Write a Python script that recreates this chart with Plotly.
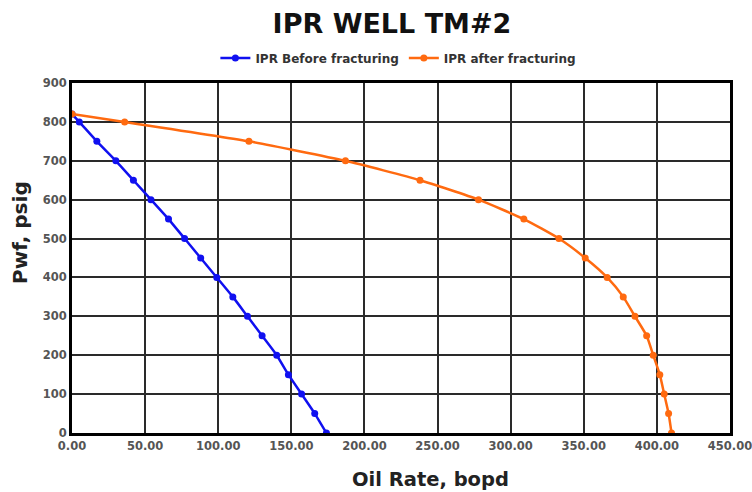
import plotly.graph_objects as go

# Data
pwf_before = [820, 800, 750, 700, 650, 600, 550, 500, 450, 400, 350, 300, 250, 200, 150, 100, 50, 0]
q_before = [0, 5, 17, 30, 42, 54, 66, 77, 88, 99, 110, 120, 130, 140, 148, 157, 166, 174]

pwf_after = [820, 800, 750, 700, 650, 600, 550, 500, 450, 400, 350, 300, 250, 200, 150, 100, 50, 0]
q_after = [0, 36, 121, 187, 238, 278, 309, 333, 351, 366, 377, 385, 393, 397.5, 402, 405, 408, 410]

x_ticks = [0, 50, 100, 150, 200, 250, 300, 350, 400, 450]
y_ticks = [0, 100, 200, 300, 400, 500, 600, 700, 800, 900]

FONT = "DejaVu Sans"

fig = go.Figure()
fig.add_trace(go.Scatter(
    x=q_before, y=pwf_before, mode="lines+markers", name="IPR Before fracturing",
    line=dict(color="#1010F0", width=2.5, shape="spline", smoothing=0.5),
    marker=dict(color="#1010F0", size=7),
))
fig.add_trace(go.Scatter(
    x=q_after, y=pwf_after, mode="lines+markers", name="IPR after fracturing",
    line=dict(color="#FF6A10", width=2.5, shape="spline", smoothing=0.5),
    marker=dict(color="#FF6A10", size=7),
))

axis_common = dict(
    showgrid=True, gridcolor="#2a2a2a", gridwidth=1.5,
    showline=True, linecolor="#000000", linewidth=3, mirror=True,
    zeroline=False, ticks="", automargin=False, ticklabeloverflow="allow",
    tickfont=dict(family=FONT, size=11.5, color="#555555", weight="bold"),
)

fig.update_xaxes(range=[0, 450], tickvals=x_ticks, tickformat=".2f", **axis_common)
fig.update_yaxes(range=[0, 900], tickvals=y_ticks, ticksuffix="  ", **axis_common)

fig.update_layout(
    width=752, height=492,
    margin=dict(l=72, r=22, t=83, b=59, autoexpand=False),
    paper_bgcolor="white", plot_bgcolor="white",
    font=dict(family=FONT),
    title=dict(text="<b>IPR WELL TM#2</b>", x=392 / 752, xanchor="center",
               y=1 - 24 / 492, yanchor="middle",
               font=dict(family=FONT, size=27, color="#111111")),
    showlegend=True,
    legend=dict(orientation="h", x=373 / 752, xanchor="center", xref="paper",
                y=1 + 25 / 350, yanchor="middle",
                font=dict(family=FONT, size=12, color="#333333", weight="bold"),
                bgcolor="rgba(0,0,0,0)", itemwidth=30),
    annotations=[
        dict(text="<b>Oil Rate, bopd</b>", xref="paper", yref="paper",
             x=(430 - 72) / 658, y=(433 - 479) / 350, xanchor="center", yanchor="middle",
             showarrow=False, font=dict(family=FONT, size=19.5, color="#222222")),
        dict(text="<b>Pwf, psig</b>", xref="paper", yref="paper",
             x=-52 / 658, y=(433 - 233) / 350, xanchor="center", yanchor="middle",
             textangle=-90, showarrow=False,
             font=dict(family=FONT, size=20, color="#222222")),
    ],
)

fig.write_html("out.html")
